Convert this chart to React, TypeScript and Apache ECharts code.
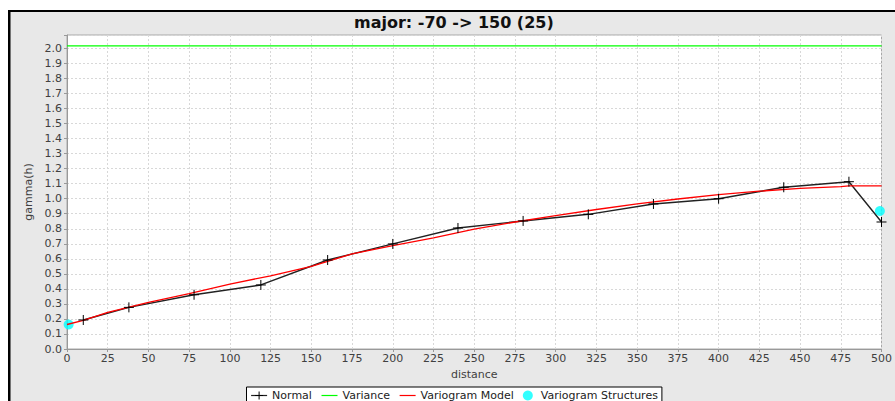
import React, { useEffect, useRef } from 'react';
import * as echarts from 'echarts';

// Experimental variogram ("Normal")
const normalX = [10, 38, 78, 119, 160, 200, 240, 280, 320, 360, 400, 440, 480, 500];
const normalY = [0.193, 0.277, 0.361, 0.426, 0.592, 0.699, 0.805, 0.852, 0.896, 0.965, 1.0, 1.076, 1.113, 0.845];

// Variogram model (red)
const modelX = [0, 10, 25, 50, 75, 100, 125, 150, 175, 200, 225, 250, 275, 300, 325, 350, 375, 400, 425, 450, 475, 480, 500];
const modelY = [0.163, 0.19, 0.243, 0.31, 0.368, 0.432, 0.487, 0.55, 0.633, 0.688, 0.74, 0.797, 0.845, 0.888, 0.928, 0.965, 0.998, 1.027, 1.05, 1.068, 1.08, 1.085, 1.085];

// Variance (green)
const varianceX = [0, 500];
const varianceY = [2.016, 2.016];

// Variogram structures (cyan)
const structX = [1, 499];
const structY = [0.163, 0.918];

// Axes
const xMin = 0;
const xMax = 500;
const xStep = 25;
const yMin = 0;
const yMax = 2.089;
const yStep = 0.1;

const titleText = 'major: -70 -> 150 (25)';
const legendNames = ['Normal', 'Variance', 'Variogram Model', 'Variogram Structures'];

const FONT = 'DejaVu Sans';
const PLUS = 'path://M0,5L10,5M5,0L5,10';

const zip = (xs: number[], ys: number[]) => xs.map((x, i) => [x, ys[i]]);

export default function App() {
  const ref = useRef<HTMLDivElement>(null);

  useEffect(() => {
    const chart = echarts.init(ref.current!, null, { renderer: 'svg' });
    const axisText = { fontFamily: FONT, fontSize: 11, color: '#404040' };
    chart.setOption({
      animation: false,
      backgroundColor: '#e8e8e8',
      title: {
        text: titleText,
        left: 354,
        top: 14,
        padding: 0,
        textStyle: { fontFamily: FONT, fontSize: 16, fontWeight: 'bold', color: '#111' },
      },
      grid: {
        left: 67,
        top: 35,
        right: 2,
        bottom: 52,
        show: true,
        backgroundColor: '#ffffff',
        borderColor: '#a8a8a8',
        borderWidth: 1,
      },
      xAxis: {
        type: 'value',
        min: xMin,
        max: xMax,
        interval: xStep,
        name: 'distance',
        nameLocation: 'middle',
        nameGap: 18,
        nameTextStyle: axisText,
        axisLine: { show: true, onZero: false, lineStyle: { color: '#999' } },
        axisTick: { show: true, length: 3, lineStyle: { color: '#999' } },
        axisLabel: { ...axisText, margin: 4 },
        splitLine: { show: true, lineStyle: { color: '#d8d8d8', type: [2, 2], width: 1 } },
      },
      yAxis: {
        type: 'value',
        min: yMin,
        max: yMax,
        interval: yStep,
        name: 'gamma(h)',
        nameLocation: 'middle',
        nameGap: 29,
        nameTextStyle: axisText,
        axisLine: { show: true, onZero: false, lineStyle: { color: '#999' } },
        axisTick: { show: true, length: 3, lineStyle: { color: '#999' } },
        axisLabel: {
          ...axisText,
          margin: 5,
          formatter: (v: number) => {
            const r = Math.round(v * 10);
            return Math.abs(v * 10 - r) < 1e-6 ? (r / 10).toFixed(1) : '';
          },
        },
        splitLine: { show: true, lineStyle: { color: '#d8d8d8', type: [2, 2], width: 1 } },
      },
      legend: {
        left: 246.5,
        top: 387,
        orient: 'horizontal',
        padding: [3, 4, 6, 4],
        itemGap: 9,
        itemWidth: 16,
        itemHeight: 10,
        backgroundColor: '#ffffff',
        borderColor: '#000000',
        borderWidth: 1,
        borderRadius: 0,
        textStyle: { fontFamily: FONT, fontSize: 11, lineHeight: 11, color: '#222' },
        data: [
          {
            name: legendNames[0],
            itemStyle: { color: '#000', borderColor: '#000', borderWidth: 1 },
            lineStyle: { color: '#222', width: 1.2 },
          },
          {
            name: legendNames[1],
            itemStyle: { color: '#00ff00', opacity: 0, borderWidth: 0 },
            lineStyle: { color: '#00ff00', width: 1.2 },
          },
          {
            name: legendNames[2],
            itemStyle: { color: '#ff0000', opacity: 0, borderWidth: 0 },
            lineStyle: { color: '#ff0000', width: 1.2 },
          },
          { name: legendNames[3], itemStyle: { color: '#00ffff', borderWidth: 0 } },
        ],
      },
      series: [
        {
          name: legendNames[0],
          type: 'line',
          data: zip(normalX, normalY),
          symbol: PLUS,
          symbolSize: 10,
          showAllSymbol: true,
          lineStyle: { color: '#222', width: 1.4 },
          itemStyle: { color: '#000', borderColor: '#000', borderWidth: 1 },
        },
        {
          name: legendNames[1],
          type: 'line',
          data: zip(varianceX, varianceY),
          symbol: 'none',
          lineStyle: { color: '#00ff00', width: 1.3 },
          itemStyle: { color: '#00ff00' },
        },
        {
          name: legendNames[2],
          type: 'line',
          data: zip(modelX, modelY),
          symbol: 'none',
          lineStyle: { color: '#ff0000', width: 1.3 },
          itemStyle: { color: '#ff0000' },
        },
        {
          name: legendNames[3],
          type: 'scatter',
          data: zip(structX, structY),
          symbol: 'circle',
          symbolSize: 10,
          itemStyle: { color: '#00ffff' },
        },
      ],
      graphic: [
        { type: 'rect', z: 100, silent: true, shape: { x: 0, y: 0, width: 895, height: 10 }, style: { fill: '#ffffff' } },
        { type: 'rect', z: 100, silent: true, shape: { x: 0, y: 0, width: 8, height: 401 }, style: { fill: '#ffffff' } },
        { type: 'rect', z: 101, silent: true, shape: { x: 8, y: 10, width: 887, height: 2 }, style: { fill: '#000000' } },
        { type: 'rect', z: 101, silent: true, shape: { x: 8, y: 10, width: 2.5, height: 391 }, style: { fill: '#000000' } },
      ],
    });
    return () => chart.dispose();
  }, []);

  return <div ref={ref} style={{ position: 'fixed', left: 0, top: 0, width: 895, height: 401 }} />;
}
